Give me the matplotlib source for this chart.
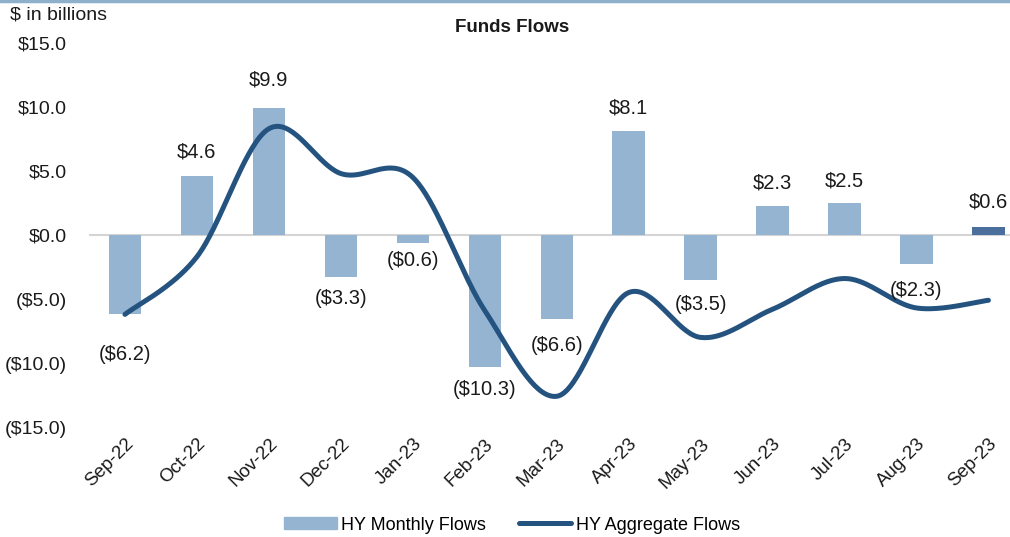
import numpy as np
import matplotlib
matplotlib.use("Agg")
import matplotlib.pyplot as plt
from matplotlib.lines import Line2D
from matplotlib.patches import Patch

plt.rcParams['font.family'] = ['Liberation Sans', 'DejaVu Sans']

# data ($ in billions)
months = ["Sep-22", "Oct-22", "Nov-22", "Dec-22", "Jan-23", "Feb-23", "Mar-23",
          "Apr-23", "May-23", "Jun-23", "Jul-23", "Aug-23", "Sep-23"]
monthly_flows = [-6.2, 4.6, 9.9, -3.3, -0.6, -10.3, -6.6, 8.1, -3.5, 2.3, 2.5, -2.3, 0.6]
aggregate_flows = [-6.2, -1.7, 8.3, 4.8, 4.5, -5.9, -12.6, -4.5, -8.0, -5.8, -3.4, -5.7, -5.1]
y_ticks = [15, 10, 5, 0, -5, -10, -15]

BAR_LIGHT = "#95b4d2"
BAR_DARK = "#4a6f9c"
LINE_COL = "#255380"
TEXT_COL = "#1a1a1a"

# label offset from bar end in points (manual, like the original)
label_gap = [29, 17, 20, 15, 13, 16, 19, 17, 18, 16, 16, 19, 18]


def fmt(v):
    if v < 0:
        return "(${:.1f})".format(-v)
    return "${:.1f}".format(v)


def smooth(xs, ys, n=40):
    # bezier smoothing with catmull-rom control points (excel style smoothed line)
    xs = np.asarray(xs, float)
    ys = np.asarray(ys, float)
    px = np.concatenate([[xs[0]], xs, [xs[-1]]])
    py = np.concatenate([[ys[0]], ys, [ys[-1]]])
    outx, outy = [], []
    t = np.linspace(0, 1, n)
    for i in range(1, len(px) - 2):
        p0 = np.array([px[i], py[i]])
        p3 = np.array([px[i + 1], py[i + 1]])
        c1 = p0 + (p3 - np.array([px[i - 1], py[i - 1]])) / 6.0
        c2 = p3 - (np.array([px[i + 2], py[i + 2]]) - p0) / 6.0
        b = ((1 - t) ** 3)[:, None] * p0 + (3 * (1 - t) ** 2 * t)[:, None] * c1 \
            + (3 * (1 - t) * t ** 2)[:, None] * c2 + (t ** 3)[:, None] * p3
        outx.extend(b[:, 0])
        outy.extend(b[:, 1])
    return np.array(outx), np.array(outy)


fig = plt.figure(figsize=(10.1, 5.37), dpi=100)
ax = fig.add_axes([89 / 1010, 0.2048, 921 / 1010, 0.7152])

x = np.arange(len(months))
colors = [BAR_LIGHT] * (len(months) - 1) + [BAR_DARK]
ax.bar(x, monthly_flows, width=0.45, color=colors, zorder=2)
ax.axhline(0, color="#d4d4d4", lw=1.5, zorder=1)

sx, sy = smooth(x, aggregate_flows)
ax.plot(sx, sy, color=LINE_COL, lw=3.6, solid_capstyle="round", zorder=3)

for xi, v, g in zip(x, monthly_flows, label_gap):
    off = g if v >= 0 else -g
    ax.annotate(fmt(v), (xi, v), xytext=(0, off), textcoords="offset points",
                ha="center", va="center", fontsize=14.5, color=TEXT_COL, zorder=4)

ax.set_xlim(-0.5, 12.3)
ax.set_ylim(-15, 15)
ax.set_yticks(y_ticks)
ax.set_yticklabels([fmt(v) for v in y_ticks], fontsize=14, color=TEXT_COL)
ax.set_xticks(x)
ax.set_xticklabels(months, rotation=45, ha="right", rotation_mode="anchor",
                   fontsize=13.5, color=TEXT_COL)
ax.tick_params(axis="both", length=0)
ax.tick_params(axis="y", pad=16)
ax.tick_params(axis="x", pad=6)
for s in ax.spines.values():
    s.set_visible(False)

fig.text(10 / 1010, 1 - 15 / 537, "$ in billions", fontsize=14, color=TEXT_COL,
         ha="left", va="center")
fig.text(512 / 1010, 1 - 27 / 537, "Funds Flows", fontsize=13.5, fontweight="bold",
         color=TEXT_COL, ha="center", va="center")
fig.add_artist(Line2D([0, 1], [1 - 1 / 537, 1 - 1 / 537], color="#8fb0cb", lw=2.5))

handles = [Patch(color=BAR_LIGHT), Line2D([], [], color=LINE_COL, lw=3.6, solid_capstyle="round")]
fig.legend(handles, ["HY Monthly Flows", "HY Aggregate Flows"], loc="center",
           bbox_to_anchor=(512 / 1010, 1 - 525 / 537), ncol=2, frameon=False,
           fontsize=13, handlelength=2.9, handleheight=0.6, handletextpad=0.25,
           columnspacing=1.8)

fig.savefig("out.png", dpi=100)
